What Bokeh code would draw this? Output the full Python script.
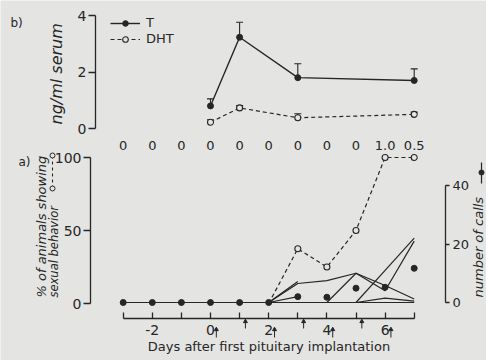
from math import pi
from bokeh.plotting import figure
from bokeh.models import (Range1d, LinearAxis, FixedTicker, Whisker, ColumnDataSource,
                          Legend, LegendItem, TeeHead)
from bokeh.embed import file_html
from bokeh.resources import INLINE
from bokeh.core.properties import value

# ---------------- data ----------------
days = [-3, -2, -1, 0, 1, 2, 3, 4, 5, 6, 7]
row_values = ["0", "0", "0", "0", "0", "0", "0", "0", "0", "1.0", "0.5"]

hormone_days = [0, 1, 3, 7]
T_mean = [0.80, 3.23, 1.80, 1.70]
T_err = [0.25, 0.53, 0.49, 0.41]
DHT_mean = [0.22, 0.73, 0.38, 0.50]
DHT_err = [0.09, 0.08, 0.14, 0.08]

pct_days = [2, 3, 4, 5, 6, 7]
pct_sexual = [0, 37.5, 25, 50, 100, 100]

calls_mean = [0, 0, 0, 0, 0, 0, 2.0, 1.8, 4.9, 5.2, 11.7]

ind_A = [0, 0, 0, 0, 0, 0, 6.5, 7.5, 10, 5.8, 1.2]
ind_B = [0, 0, 0, 0, 0, 0, 0, 0, 10, 4, 21]
ind_C = [0, 0, 0, 0, 0, 0, 0, 0, 0, 11, 22]
ind_D = [0, 0, 0, 0, 0, 0, 0, 0, 0, 1.5, 0.5]
ind_E = [0, 0, 0, 0, 0, 0, 7.2]
ind_F = [0, 0, 0, 0, 0, 0, 2.0]
ind_G = [0, 0, 0, 0, 0, 0, 0, 0, 0, 0, 0]
individuals = [ind_G, ind_D, ind_A, ind_B, ind_C, ind_E, ind_F]

implant_days = [0, 1, 2, 3, 4, 5, 6]

x_ticks = [-2, 0, 2, 4, 6]
x_minor = [-3, -1, 1, 3, 5, 7]
pct_ticks = [0, 50, 100]
ng_ticks = [0, 2, 4]
calls_ticks = [0, 20, 40]

# ---------------- style ----------------
BG = "#e4e4e2"
INK = "#262626"
FONT = "DejaVu Sans"
W, H = 486, 360

# page-pixel -> data helpers (layout only)
def dx(px):
    return (px - 210) / 29.1

def ypct(py):
    return (303 - py) / 1.46

def yng(py):
    return (128 - py) / 28.25

def ycalls(py):
    return (302 - py) / 2.925

p = figure(width=W, height=H, output_backend="svg", toolbar_location=None,
           x_range=Range1d(dx(0), dx(W)), y_range=Range1d(ypct(H), ypct(0)),
           x_axis_location=None, y_axis_location=None, min_border=0,
           outline_line_color=None, background_fill_color=BG, border_fill_color=BG)
p.grid.visible = False
p.extra_y_ranges = {"calls": Range1d(ycalls(H), ycalls(0)),
                    "ng": Range1d(yng(H), yng(0))}

def style_axis(ax, size="14px"):
    ax.axis_line_color = INK
    ax.axis_line_width = 1.3
    ax.major_tick_line_color = INK
    ax.major_tick_line_width = 1.3
    ax.minor_tick_line_color = INK
    ax.minor_tick_line_width = 1.3
    ax.major_label_text_font = FONT
    ax.major_label_text_font_size = size
    ax.major_label_text_color = INK

# bottom x axis
xax = LinearAxis(fixed_location=ypct(318), ticker=FixedTicker(ticks=x_ticks, minor_ticks=x_minor),
                 bounds=(-3, 7), major_tick_in=6, major_tick_out=0, minor_tick_in=6, minor_tick_out=0,
                 major_label_standoff=6, major_label_overrides={-2: "-2"},
                 axis_label="Days after first pituitary implantation",
                 axis_label_standoff=1, axis_label_text_font=FONT, axis_label_text_font_size="13px",
                 axis_label_text_font_style="normal", axis_label_text_color=INK)
style_axis(xax)
p.add_layout(xax, "below")

# left % axis
yax = LinearAxis(fixed_location=dx(90), ticker=FixedTicker(ticks=pct_ticks), bounds=(0, 100),
                 major_tick_out=7, major_tick_in=0, minor_tick_out=0, minor_tick_in=0,
                 major_label_standoff=2)
style_axis(yax)
p.add_layout(yax, "left")

# top ng axis
ngax = LinearAxis(y_range_name="ng", fixed_location=dx(95), ticker=FixedTicker(ticks=ng_ticks),
                  bounds=(0, 4), major_tick_out=7, major_tick_in=0, minor_tick_out=0,
                  minor_tick_in=0, major_label_standoff=2)
style_axis(ngax)
p.add_layout(ngax, "left")

# right calls axis
cax = LinearAxis(y_range_name="calls", fixed_location=dx(445), ticker=FixedTicker(ticks=calls_ticks),
                 bounds=(0, 40), major_tick_out=4, major_tick_in=0, minor_tick_out=0,
                 minor_tick_in=0, major_label_standoff=3)
style_axis(cax, "13px")
p.add_layout(cax, "right")

# ---------------- bottom panel marks ----------------
p.multi_line(xs=[days[:len(v)] for v in individuals], ys=individuals, y_range_name="calls",
             line_color=INK, line_width=1.2)
p.line(pct_days, pct_sexual, line_color=INK, line_width=1.2, line_dash="4 3")
p.scatter(pct_days[1:], pct_sexual[1:], marker="circle", size=6, line_color=INK,
          fill_color=BG, line_width=1.1)
p.scatter(days, calls_mean, y_range_name="calls", marker="circle", size=6,
          line_color=INK, fill_color=INK)

# implantation arrows
ax_x = [d + 0.2 for d in implant_days]
ax_top = [ypct(329) if d % 2 == 0 else ypct(321) for d in implant_days]
ax_bot = [ypct(337) if d % 2 == 0 else ypct(328) for d in implant_days]
p.segment(x0=ax_x, y0=ax_bot, x1=ax_x, y1=ax_top, line_color=INK, line_width=1)
p.scatter(ax_x, ax_top, marker="triangle", size=4, line_color=INK, fill_color=INK)

# row of numbers between panels
p.text(x=days, y=[ypct(145)] * len(days), text=row_values, text_font=value(FONT),
       text_font_size="13px", text_align="center", text_baseline="middle", text_color=INK)

# ---------------- top panel marks ----------------
srcT = ColumnDataSource(dict(x=hormone_days, y=T_mean,
                             up=[m + e for m, e in zip(T_mean, T_err)]))
srcD = ColumnDataSource(dict(x=hormone_days, y=DHT_mean,
                             up=[m + e for m, e in zip(DHT_mean, DHT_err)]))
p.add_layout(Whisker(source=srcT, base="x", lower="y", upper="up", y_range_name="ng",
                     line_color=INK, line_width=1.1, lower_head=None,
                     upper_head=TeeHead(size=7, line_color=INK, line_width=1.1)))
p.add_layout(Whisker(source=srcD, base="x", lower="y", upper="up", y_range_name="ng",
                     line_color=INK, line_width=1.1, lower_head=None,
                     upper_head=TeeHead(size=7, line_color=INK, line_width=1.1)))
lT = p.line("x", "y", source=srcT, y_range_name="ng", line_color=INK, line_width=1.4)
sT = p.scatter("x", "y", source=srcT, y_range_name="ng", marker="circle", size=6,
               line_color=INK, fill_color=INK)
lD = p.line("x", "y", source=srcD, y_range_name="ng", line_color=INK, line_width=1.2,
            line_dash="4 3")
sD = p.scatter("x", "y", source=srcD, y_range_name="ng", marker="circle", size=6,
               line_color=INK, fill_color=BG, line_width=1.1)

leg = Legend(items=[LegendItem(label="T", renderers=[lT, sT]),
                    LegendItem(label="DHT", renderers=[lD, sD])],
             location=(110, 314), glyph_width=30, glyph_height=14, label_height=14,
             spacing=1, padding=0, margin=0, background_fill_alpha=0, border_line_color=None,
             label_text_font=FONT, label_text_font_size="13px", label_text_color=INK,
             label_standoff=6)
p.add_layout(leg)

# ---------------- texts & rotated legend keys ----------------
def txt(x, y, s, size="12px", style="normal", angle=0.0, align="left"):
    p.text(x=[x], y=[y], text=[s], text_font=value(FONT), text_font_size=size,
           text_font_style=style, angle=angle, text_align=align, text_baseline="middle",
           text_color=INK)

txt(dx(10), ypct(22), "b)")
txt(dx(18), ypct(161), "a)")
txt(dx(41), ypct(297), "% of animals showing", "13px", "italic", pi / 2)
txt(dx(53), ypct(297), "sexual behavior", "11.5px", "italic", pi / 2)
txt(dx(56), ypct(124), "ng/ml serum", "16px", "italic", pi / 2)
txt(dx(478), ypct(297), "number of calls", "13px", "italic", pi / 2)

p.line([dx(52), dx(52)], [ypct(188), ypct(155)], line_color=INK, line_width=1.1, line_dash="3 3")
p.scatter([dx(52), dx(52)], [ypct(188), ypct(155)], marker="circle", size=5,
          line_color=INK, fill_color=BG, line_width=1)
p.line([dx(481), dx(481)], [ypct(183), ypct(162)], line_color=INK, line_width=1.2)
p.scatter([dx(481)], [ypct(172)], marker="circle", size=5, line_color=INK, fill_color=INK)

open("out.html", "w").write(file_html(p, INLINE))
